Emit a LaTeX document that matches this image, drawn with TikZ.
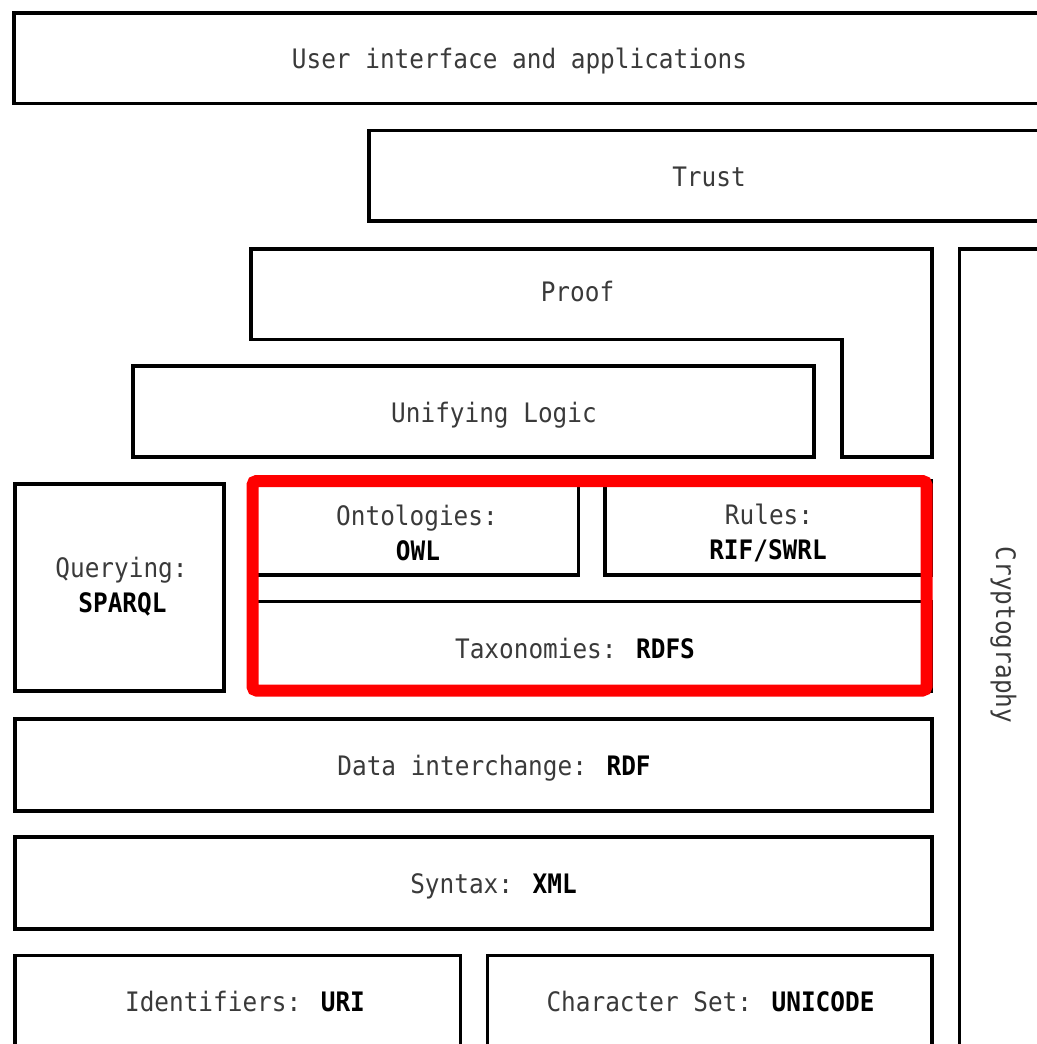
\documentclass[tikz,border=0pt]{standalone}
\usepackage{fontspec}
\newfontfamily\stackfont[FakeStretch=0.91]{DejaVu Sans Mono}
\definecolor{txtgray}{HTML}{3A3A3A}
\newcommand\kw[1]{\textcolor{black}{\bfseries #1}}
\begin{document}
\begin{tikzpicture}[x=0.5pt,y=-0.5pt,
  layer/.style={draw=black, line width=1.75pt},
  lbl/.style={inner sep=0pt, text height=9.8pt, text depth=0pt,
    font=\stackfont\fontsize{13.4}{16}\selectfont, text=txtgray},
  hilite/.style={draw=red, line width=6pt, rounded corners=2pt}]
\useasboundingbox (0,0) rectangle (1037,1044);
\clip (0,0) rectangle (1037,1044);
% layers of the stack
\draw[layer] (14,13) rectangle (1060,103.5);
\draw[layer] (369,130.5) rectangle (1060,221);
\draw[layer] (251,249) -- (932,249) -- (932,457) -- (842,457) -- (842,339.5) -- (251,339.5) -- cycle;
\draw[layer] (133,366) rectangle (814,457);
\draw[layer] (959.5,249) rectangle (1060,1060);
\draw[layer] (15,484) rectangle (224,691);
\draw[layer] (252,481) rectangle (578.5,575);
\draw[layer] (605,481) rectangle (931.5,575);
\draw[layer] (252,601.5) rectangle (931.5,691);
\draw[layer] (15,719) rectangle (932,811);
\draw[layer] (15,837) rectangle (932,929);
\draw[layer] (15,955.5) rectangle (460.5,1060);
\draw[layer] (487.5,955.5) rectangle (932,1060);
% highlighted part
\draw[hilite] (252.5,481) rectangle (926.5,690.5);
% labels
\node[lbl] (ui) at (519.5,59) {User interface and applications};
\node[lbl] (trust) at (709,177) {Trust};
\node[lbl] (proof) at (577.5,292) {Proof};
\node[lbl] (logic) at (494,413) {Unifying Logic};
\node[lbl] (onto) at (417,516) {Ontologies:};
\node[lbl] (ontokw) at (418,551) {\kw{OWL}};
\node[lbl] (rules) at (769,514.5) {Rules:};
\node[lbl] (ruleskw) at (768,549.5) {\kw{RIF/SWRL}};
\node[lbl] (query) at (121.5,568) {Querying:};
\node[lbl] (querykw) at (122.5,603) {\kw{SPARQL}};
\node[lbl] (taxo) at (575,648.5) {Taxonomies: \kw{RDFS}};
\node[lbl] (rdf) at (494,766) {Data interchange: \kw{RDF}};
\node[lbl] (xml) at (493.5,884) {Syntax: \kw{XML}};
\node[lbl] (uri) at (245,1002) {Identifiers: \kw{URI}};
\node[lbl] (uni) at (710.5,1002) {Character Set: \kw{UNICODE}};
\node[lbl, rotate=-90] (crypto) at (1006,635) {Cryptography};
\end{tikzpicture}
\end{document}
